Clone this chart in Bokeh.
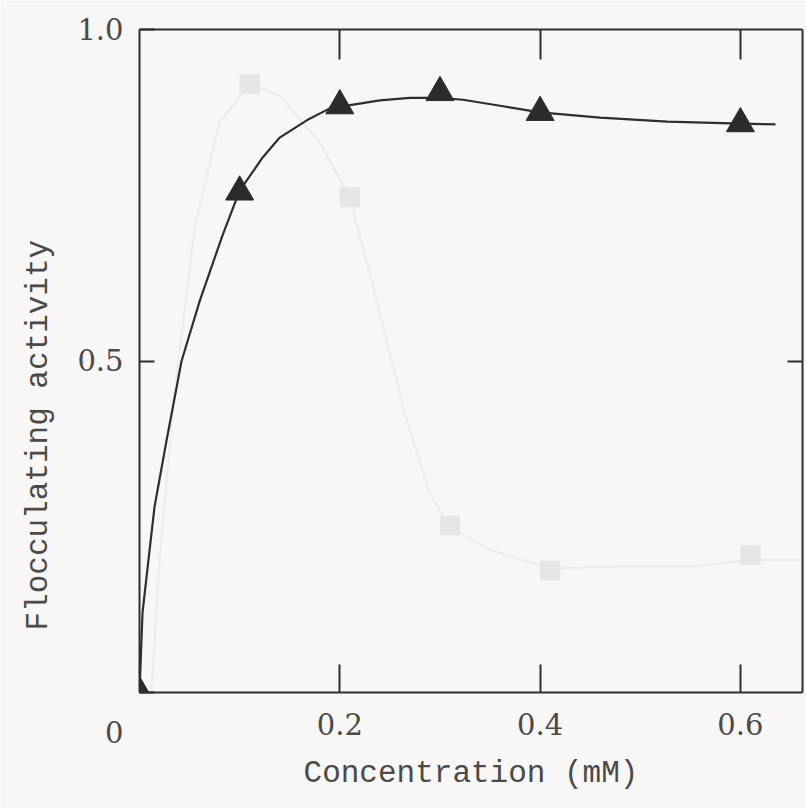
from bokeh.plotting import figure
from bokeh.models import LinearAxis, FixedTicker, Range1d, Title
from bokeh.embed import file_html
from bokeh.resources import INLINE

# ---- data ----
conc = [0.0, 0.1, 0.2, 0.3, 0.4, 0.6]
activity = [0.0, 0.755, 0.885, 0.905, 0.875, 0.858]

# traced fitted curve through the triangles
curve_x = [0.0, 0.003, 0.01, 0.015, 0.027, 0.042, 0.06, 0.083, 0.1, 0.123, 0.14,
           0.167, 0.19, 0.24, 0.27, 0.3, 0.323, 0.36, 0.4, 0.46, 0.527, 0.6, 0.635]
curve_y = [0.0, 0.12, 0.214, 0.28, 0.38, 0.50, 0.59, 0.69, 0.757, 0.807, 0.837,
           0.863, 0.881, 0.893, 0.897, 0.897, 0.894, 0.885, 0.875, 0.867, 0.861, 0.858, 0.857]

# faint show-through series (squares) and its curve
ghost_conc = [0.11, 0.21, 0.31, 0.41, 0.61]
ghost_act = [0.918, 0.747, 0.252, 0.184, 0.207]
ghost_curve_x = [0.012, 0.02, 0.035, 0.055, 0.08, 0.11, 0.14, 0.18, 0.21, 0.237, 0.265,
                 0.29, 0.31, 0.35, 0.41, 0.48, 0.55, 0.61, 0.66]
ghost_curve_y = [0.0, 0.2, 0.45, 0.7, 0.86, 0.918, 0.9, 0.83, 0.747, 0.59, 0.42,
                 0.3, 0.25, 0.215, 0.187, 0.19, 0.19, 0.2, 0.2]

x_ticks = [0.2, 0.4, 0.6]
x_tick_labels = ["0.2", "0.4", "0.6"]
y_ticks = [0.0, 0.5, 1.0]
y_tick_labels = ["0", "0.5", "1.0"]
x_title = "Concentration (mM)"
y_title = "Flocculating activity"

BG = "#f9f7f5"
INK = "#2e2e2e"
TXT = "#4a4a4a"
GHOST_PT = "#e8e6e4"
GHOST_LN = "#eeecea"

p = figure(width=806, height=808, output_backend="svg", toolbar_location=None,
           x_range=Range1d(0, 0.662), y_range=Range1d(0, 1.0),
           x_axis_location=None, y_axis_location=None,
           min_border_left=139, min_border_right=4, min_border_top=29, min_border_bottom=116)
p.background_fill_color = BG
p.border_fill_color = BG
p.outline_line_color = None
p.xgrid.visible = False
p.ygrid.visible = False


def style_axis(ax, tick_in, show_labels):
    ax.major_tick_in = tick_in
    ax.major_tick_out = 0
    ax.minor_tick_in = 0
    ax.minor_tick_out = 0
    ax.axis_line_color = INK
    ax.axis_line_width = 2
    ax.major_tick_line_color = INK
    ax.major_tick_line_width = 2
    if show_labels:
        ax.major_label_text_font = "DejaVu Serif"
        ax.major_label_text_font_size = "29px"
        ax.major_label_text_color = TXT
    else:
        ax.major_label_text_font_size = "0px"
        ax.major_label_text_color = None
        ax.major_label_standoff = 0


xb = LinearAxis(ticker=FixedTicker(ticks=x_ticks, minor_ticks=[]),
                major_label_overrides={t: s for t, s in zip(x_ticks, x_tick_labels)})
style_axis(xb, 28, True)
xb.major_label_standoff = 20
xb.axis_label = x_title
xb.axis_label_text_font = "Liberation Mono"
xb.axis_label_text_font_size = "31px"
xb.axis_label_text_font_style = "normal"
xb.axis_label_text_color = TXT
xb.axis_label_standoff = 18
p.add_layout(xb, "below")

xt = LinearAxis(ticker=FixedTicker(ticks=x_ticks, minor_ticks=[]))
style_axis(xt, 30, False)
p.add_layout(xt, "above")

# the corner "0" sits below-left of the origin: pushed down with empty leading lines
y_overrides = {t: s for t, s in zip(y_ticks, y_tick_labels)}
y_overrides[0.0] = "\n\n" + y_tick_labels[0]
yl = LinearAxis(ticker=FixedTicker(ticks=y_ticks, minor_ticks=[]),
                major_label_overrides=y_overrides)
style_axis(yl, 15, True)
yl.major_label_standoff = 16
p.add_layout(yl, "left")

yr = LinearAxis(ticker=FixedTicker(ticks=[0.5], minor_ticks=[]))
style_axis(yr, 15, False)
p.add_layout(yr, "right")

# vertical title on the left, shifted towards the bottom like the reference
p.add_layout(Title(text=y_title, align="left", offset=62, standoff=37,
                   text_font="Liberation Mono", text_font_size="31px",
                   text_font_style="normal", text_color=TXT), "left")

# faint show-through series
p.line(ghost_curve_x, ghost_curve_y, line_color=GHOST_LN, line_width=2)
p.scatter(ghost_conc, ghost_act, marker="square", size=19,
          fill_color=GHOST_PT, line_color=GHOST_PT)

# main series
p.line(curve_x, curve_y, line_color=INK, line_width=2.2)
p.scatter(conc, activity, marker="triangle", size=28,
          fill_color="#2b2b2b", line_color="#2b2b2b")

open("out.html", "w").write(file_html(p, INLINE))
